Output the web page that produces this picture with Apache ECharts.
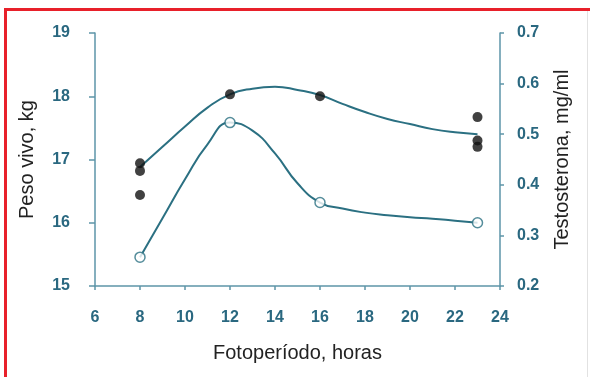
<!DOCTYPE html>
<html>
<head>
<meta charset="utf-8">
<script src="https://cdn.jsdelivr.net/npm/echarts@6/dist/echarts.min.js"></script>
<style>
  html, body { margin: 0; padding: 0; background: #ffffff; }
  #chart { width: 590px; height: 377px; }
</style>
</head>
<body>
<div id="chart"></div>
<script>
// Photoperiod (hours) and live weight observations (kg)
const pesoObs = [[8, 16.94], [8, 16.82], [8, 16.44], [12, 18.03], [16, 18.0], [23, 17.67], [23, 17.3], [23, 17.2]];
// Fitted weight curve
const pesoCurve = [[8, 16.88], [9, 17.2], [10, 17.52], [11, 17.82], [12, 18.03], [13, 18.12], [14, 18.15], [15, 18.1],
                   [16, 18.02], [17, 17.88], [18, 17.75], [19, 17.64], [20, 17.56], [21, 17.48], [22, 17.43], [23, 17.4]];
// Testosterone means (mg/ml)
const testoObs = [[8, 0.257], [12, 0.523], [16, 0.365], [23, 0.325]];
// Testosterone connecting curve
const testoCurve = [[8, 0.257], [9, 0.334], [10, 0.411], [11, 0.48], [12, 0.523], [13, 0.507], [14, 0.462], [15, 0.403],
                    [16, 0.365], [17, 0.353], [18, 0.345], [19, 0.34], [20, 0.336], [21, 0.333], [22, 0.329], [23, 0.325]];

const xTicks = { min: 6, max: 24, interval: 2 };
const pesoTicks = { min: 15, max: 19, interval: 1 };
const testoTicks = { min: 0.2, max: 0.7, interval: 0.1 };

const FONT = "'Liberation Sans', sans-serif";
const AXIS = '#5d95a8';
const LABEL = '#2a6880';
const CURVE = '#2b7082';

const chart = echarts.init(document.getElementById('chart'), null, { renderer: 'canvas' });

const axisCommon = {
  axisLine: { show: true, lineStyle: { color: AXIS, width: 1.5 } },
  splitLine: { show: false },
  axisLabel: { color: LABEL, fontFamily: FONT, fontSize: 16, fontWeight: 'bold' },
  nameTextStyle: { color: '#222', fontFamily: FONT, fontSize: 20 }
};

chart.setOption({
  animation: false,
  backgroundColor: '#ffffff',
  grid: { left: 95, right: 90, top: 33, bottom: 91 },
  xAxis: {
    type: 'value',
    min: xTicks.min, max: xTicks.max, interval: xTicks.interval,
    name: 'Fotoperíodo, horas', nameLocation: 'middle', nameGap: 57,
    axisTick: { show: true, length: 4, lineStyle: { color: AXIS, width: 1.5 } },
    ...axisCommon,
    axisLabel: { ...axisCommon.axisLabel, margin: 24 }
  },
  yAxis: [
    {
      type: 'value', position: 'left',
      min: pesoTicks.min, max: pesoTicks.max, interval: pesoTicks.interval,
      name: 'Peso vivo, kg', nameLocation: 'middle', nameGap: 58,
      axisTick: { show: true, length: 6, lineStyle: { color: AXIS, width: 1.5 } },
      ...axisCommon,
      axisLabel: { ...axisCommon.axisLabel, margin: 25 }
    },
    {
      type: 'value', position: 'right',
      min: testoTicks.min, max: testoTicks.max, interval: testoTicks.interval,
      name: 'Testosterona, mg/ml', nameLocation: 'middle', nameGap: 52, nameRotate: 90,
      axisTick: { show: true, length: 4, lineStyle: { color: AXIS, width: 1.5 } },
      ...axisCommon,
      axisLabel: { ...axisCommon.axisLabel, margin: 17, formatter: v => v.toFixed(1) }
    }
  ],
  series: [
    {
      type: 'line', yAxisIndex: 0, data: pesoCurve, smooth: 0.5, smoothMonotone: 'none',
      showSymbol: false, symbol: 'none',
      lineStyle: { color: CURVE, width: 2 }, z: 2
    },
    {
      type: 'scatter', yAxisIndex: 0, data: pesoObs,
      symbol: 'circle', symbolSize: 10,
      itemStyle: { color: '#111' }, z: 4
    },
    {
      type: 'line', yAxisIndex: 1, data: testoCurve, smooth: 0.5, smoothMonotone: 'none',
      showSymbol: false, symbol: 'none',
      lineStyle: { color: CURVE, width: 2 }, z: 2
    },
    {
      type: 'scatter', yAxisIndex: 1, data: testoObs,
      symbol: 'circle', symbolSize: 10,
      itemStyle: { color: '#ffffff', borderColor: CURVE, borderWidth: 1.5 }, z: 4
    }
  ],
  graphic: [
    { type: 'rect', left: 4, top: 8, shape: { width: 586, height: 3 }, style: { fill: '#e8202a' }, silent: true },
    { type: 'rect', left: 4, top: 8, shape: { width: 3, height: 369 }, style: { fill: '#e8202a' }, silent: true },
    { type: 'rect', left: 587, top: 11, shape: { width: 1, height: 366 }, style: { fill: '#e2e2e2' }, silent: true }
  ]
});
</script>
</body>
</html>
